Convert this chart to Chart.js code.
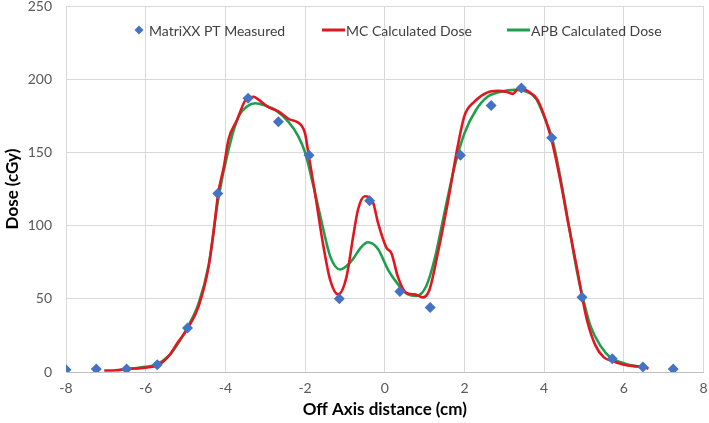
<!DOCTYPE html>
<html>
<head>
<meta charset="utf-8">
<script src="https://cdn.jsdelivr.net/npm/chart.js@4"></script>
<style>
  html, body { margin: 0; padding: 0; background: #fff; }
  #wrap { width: 709px; height: 423px; }
</style>
</head>
<body>
<div id="wrap"><canvas id="doseChart" width="709" height="423"></canvas></div>
<script>
// MatriXX measured points (cm, cGy)
const measuredX = [-8.00, -7.24, -6.48, -5.71, -4.95, -4.19, -3.43, -2.67, -1.90, -1.14, -0.38,
                   0.38, 1.14, 1.90, 2.67, 3.43, 4.19, 4.95, 5.71, 6.48, 7.24];
const measuredY = [1.5, 2, 2, 5, 30, 122, 187, 171, 148, 50, 117,
                   55, 44, 148, 182, 194, 160, 51, 9, 3.5, 2];

// MC calculated dose profile
const mcX = [-7.04, -6.75, -6.5, -6.0, -5.7, -5.42, -5.2, -4.94, -4.67, -4.42, -4.29, -4.18, -4.04, -3.92,
             -3.71, -3.46, -3.29, -3.17, -2.92, -2.67, -2.42, -2.08, -2.0, -1.92, -1.75, -1.54, -1.37,
             -1.17, -0.96, -0.79, -0.67, -0.5, -0.29, -0.17, 0.04, 0.17, 0.33, 0.54, 0.75, 0.96, 1.12,
             1.33, 1.58, 1.83, 2.0, 2.25, 2.58, 2.83, 3.04, 3.21, 3.37, 3.58, 3.83, 4.04, 4.21, 4.42,
             4.62, 4.83, 4.95, 5.08, 5.29, 5.5, 5.71, 6.0, 6.25, 6.5, 6.62];
const mcY = [1, 1.2, 2, 3, 4.5, 11, 20, 30, 45, 72, 97, 122, 140, 159,
             172, 187, 188, 186, 181, 178, 173, 168, 163, 150, 122, 86, 63,
             53, 65, 93, 111, 120, 115.5, 102, 85, 81, 65, 54, 53, 51, 56,
             81, 115.5, 154, 175, 184.7, 191, 192, 191.5, 190, 194, 192, 186, 172, 156, 129,
             99.5, 70, 52, 35, 18, 10, 7.5, 5, 4, 3.5, 2.3];

// APB calculated dose profile
const apbX = [-6.5, -6.0, -5.75, -5.42, -5.2, -4.94, -4.67, -4.42, -4.18, -3.92, -3.67, -3.45, -3.25,
              -3.0, -2.75, -2.42, -2.17, -2.0, -1.79, -1.58, -1.37, -1.12, -0.83, -0.6, -0.42, -0.17,
              0.08, 0.33, 0.58, 0.79, 1.04, 1.25, 1.5, 1.75, 2.0, 2.29, 2.58, 2.92, 3.25, 3.5, 3.79,
              4.0, 4.21, 4.42, 4.62, 4.83, 4.96, 5.17, 5.42, 5.67, 6.0, 6.29, 6.5];
const apbY = [2, 3.5, 5, 11, 19, 31, 47, 73, 118, 152, 174.5, 181.5, 183.6,
              182, 179, 171, 161, 150, 127, 102, 79, 70, 76, 85, 88.6, 84,
              70, 60, 53, 52, 58.6, 77, 109, 140, 163, 179, 188, 191.5, 192.7, 192, 187,
              174.5, 158.6, 131, 100, 68, 52, 31, 17.7, 9.8, 6, 4, 3.5];

const xTicks = [-8, -6, -4, -2, 0, 2, 4, 6, 8];
const yTicks = [0, 50, 100, 150, 200, 250];

const toPoints = (xs, ys) => xs.map((x, i) => ({ x: x, y: ys[i] }));

// legend drawn inside the plot area, like the original
const legendX = [134, 322, 507];
const legendY = 30;
const insideLegend = {
    id: 'insideLegend',
    afterDraw(chart) {
        const ctx = chart.ctx;
        ctx.save();
        ctx.font = '14px Lato';
        ctx.textBaseline = 'middle';
        chart.data.datasets.forEach((ds, i) => {
            let x = legendX[i];
            if (ds.showLine) {
                ctx.strokeStyle = ds.borderColor;
                ctx.lineWidth = 3;
                ctx.beginPath();
                ctx.moveTo(x, legendY);
                ctx.lineTo(x + 23, legendY);
                ctx.stroke();
                x += 24;
            } else {
                ctx.fillStyle = ds.backgroundColor;
                ctx.beginPath();
                ctx.moveTo(x + 5, legendY - 4.5);
                ctx.lineTo(x + 9.5, legendY);
                ctx.lineTo(x + 5, legendY + 4.5);
                ctx.lineTo(x + 0.5, legendY);
                ctx.closePath();
                ctx.fill();
                x += 15;
            }
            ctx.fillStyle = '#404040';
            ctx.fillText(ds.label, x, legendY + 1);
        });
        ctx.restore();
    }
};

const ctx = document.getElementById('doseChart').getContext('2d');
const doseChart = new Chart(ctx, {
    type: 'scatter',
    data: {
        datasets: [{
            label: 'MatriXX PT Measured',
            data: toPoints(measuredX, measuredY),
            pointStyle: 'rectRot',
            pointRadius: 5.5,
            backgroundColor: '#4472C4',
            borderColor: '#4472C4',
            borderWidth: 0,
            showLine: false,
        }, {
            label: 'MC Calculated Dose',
            data: toPoints(mcX, mcY),
            showLine: true,
            borderColor: '#E3161F',
            borderWidth: 2.6,
            pointRadius: 0,
            cubicInterpolationMode: 'monotone',
        }, {
            label: 'APB Calculated Dose',
            data: toPoints(apbX, apbY),
            showLine: true,
            borderColor: '#1DA04E',
            borderWidth: 2.6,
            pointRadius: 0,
            cubicInterpolationMode: 'monotone',
        }]
    },
    options: {
        responsive: false,
        animation: false,
        layout: { padding: { left: 0, right: 3, top: 6, bottom: 0 } },
        plugins: {
            legend: { display: false },
            tooltip: { enabled: false },
        },
        scales: {
            x: {
                type: 'linear',
                min: -8,
                max: 8,
                afterBuildTicks: (scale) => { scale.ticks = xTicks.map(v => ({ value: v })); },
                grid: { color: '#d9d9d9', drawTicks: false },
                border: { color: '#bfbfbf' },
                ticks: { color: '#595959', font: { family: 'Lato', size: 14 }, padding: 8 },
                title: {
                    display: true,
                    text: 'Off Axis distance (cm)',
                    color: '#000',
                    font: { family: 'Lato', size: 17, weight: 'bold' },
                    padding: { top: 4, bottom: 3 },
                },
                afterFit: (scale) => {
                    scale.height = 51;
                    scale.paddingLeft = 0;
                    scale.paddingRight = 0;
                },
            },
            y: {
                type: 'linear',
                min: 0,
                max: 250,
                afterBuildTicks: (scale) => { scale.ticks = yTicks.map(v => ({ value: v })); },
                grid: { color: '#d9d9d9', drawTicks: false },
                border: { color: '#d9d9d9' },
                ticks: { color: '#595959', font: { family: 'Lato', size: 14 }, padding: 14 },
                title: {
                    display: true,
                    text: 'Dose (cGy)',
                    color: '#000',
                    font: { family: 'Lato', size: 17, weight: 'bold' },
                    padding: { top: 2, bottom: 0 },
                },
                afterFit: (scale) => {
                    scale.width = 66;
                    scale.paddingTop = 0;
                    scale.paddingBottom = 0;
                },
            },
        },
    },
    plugins: [insideLegend],
});
</script>
</body>
</html>
